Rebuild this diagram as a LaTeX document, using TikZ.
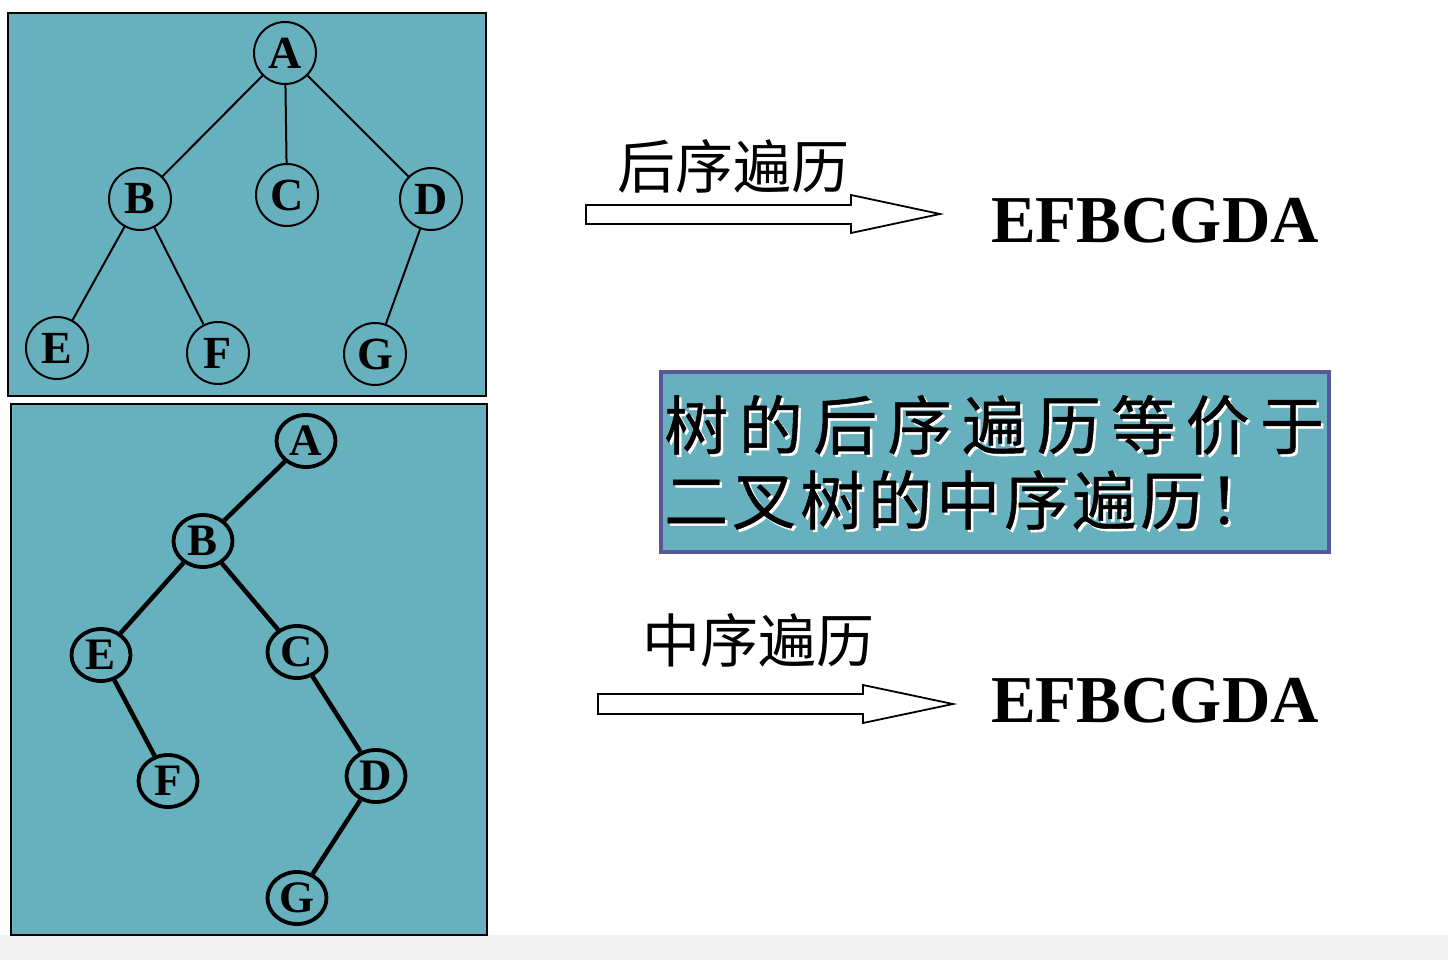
\documentclass[tikz,border=0pt]{standalone}
\usepackage{fontspec}
\setmainfont{Liberation Serif}
\newfontfamily\cjk{Noto Sans CJK SC}
\newfontfamily\cjkmed{Noto Sans CJK SC}[FakeBold=0.7]
\usetikzlibrary{shapes.geometric}
\definecolor{panelteal}{RGB}{103,176,190}
\definecolor{boxborder}{RGB}{88,88,150}
\definecolor{stripgrey}{RGB}{242,242,242}
\newcommand{\cg}{\hspace{10.5pt}}
\newcommand{\cgb}{\hspace{4pt}}
\begin{document}
\begin{tikzpicture}[x=1pt,y=-1pt,
  panel/.style={draw=black,line width=1.8pt,fill=panelteal},
  tnode/.style={circle,draw=black,line width=2pt,minimum size=62pt,inner sep=0pt,font=\fontsize{46}{46}\selectfont\bfseries},
  bnode/.style={ellipse,draw=black,line width=3.8pt,minimum width=59pt,minimum height=52pt,inner sep=0pt,font=\fontsize{45}{45}\selectfont\bfseries},
  tedge/.style={line width=2pt},
  bedge/.style={line width=4.5pt},
  bigarrow/.style={draw=black,line width=1.8pt,fill=white},
  arrowlabel/.style={inner sep=0pt,font=\cjk\fontsize{58}{58}\selectfont},
  restext/.style={inner sep=0pt,anchor=base,font=\fontsize{67}{67}\selectfont\bfseries},
  boxtext/.style={inner sep=0pt,anchor=west,font=\cjkmed\fontsize{64}{64}\selectfont},
]
\useasboundingbox (0,0) rectangle (1448,960);
\fill[stripgrey] (0,935) rectangle (1448,960);

% ---- top panel: general tree ----
\draw[panel] (8,13) rectangle (486,396);
\node[tnode] (tA) at (285,53) {A};
\node[tnode] (tB) at (140,199) {B};
\node[tnode] (tC) at (287,195) {C};
\node[tnode] (tD) at (431,199) {D};
\node[tnode] (tE) at (57,348) {E};
\node[tnode] (tF) at (218,353) {F};
\node[tnode] (tG) at (375,354) {G};
\draw[tedge] (tA) -- (tB);
\draw[tedge] (tA) -- (tC);
\draw[tedge] (tA) -- (tD);
\draw[tedge] (tB) -- (tE);
\draw[tedge] (tB) -- (tF);
\draw[tedge] (tD) -- (tG);

% ---- bottom panel: binary tree ----
\draw[panel] (11,404) rectangle (487,935);
\node[bnode] (bA) at (306,441) {A};
\node[bnode] (bB) at (203,541) {B};
\node[bnode] (bE) at (101,655) {E};
\node[bnode] (bC) at (297,652) {C};
\node[bnode] (bF) at (168,781) {F};
\node[bnode] (bD) at (376,776) {D};
\node[bnode] (bG) at (297,898) {G};
\draw[bedge] (bA) -- (bB);
\draw[bedge] (bB) -- (bE);
\draw[bedge] (bB) -- (bC);
\draw[bedge] (bE) -- (bF);
\draw[bedge] (bC) -- (bD);
\draw[bedge] (bD) -- (bG);

% ---- top arrow ----
\draw[bigarrow] (586,205) -- (851,205) -- (851,195) -- (940,214) -- (851,233) -- (851,224) -- (586,224) -- cycle;
\node[arrowlabel] (postlabel) at (733,166) {后序遍历};
\node[restext] (postres) at (1155,243) {EFBCGDA};

% ---- middle box ----
\draw[draw=boxborder,line width=3.5pt,fill=panelteal] (661,372) rectangle (1329,552);
\node[boxtext,text=white] (l1s) at (666.5,427.5) {树\cg 的\cg 后\cg 序\cg 遍\cg 历\cg 等\cg 价\cg 于};
\node[boxtext] (l1) at (664,425) {树\cg 的\cg 后\cg 序\cg 遍\cg 历\cg 等\cg 价\cg 于};
\node[boxtext,text=white] (l2s) at (666.5,502.5) {二\cgb 叉\cgb 树\cgb 的\cgb 中\cgb 序\cgb 遍\cgb 历\cgb ！};
\node[boxtext] (l2) at (664,500) {二\cgb 叉\cgb 树\cgb 的\cgb 中\cgb 序\cgb 遍\cgb 历\cgb ！};

% ---- bottom arrow ----
\draw[bigarrow] (598,694) -- (863,694) -- (863,685) -- (953,704) -- (863,723) -- (863,714) -- (598,714) -- cycle;
\node[arrowlabel] (inlabel) at (758,640) {中序遍历};
\node[restext] (inres) at (1155,722) {EFBCGDA};
\end{tikzpicture}
\end{document}
